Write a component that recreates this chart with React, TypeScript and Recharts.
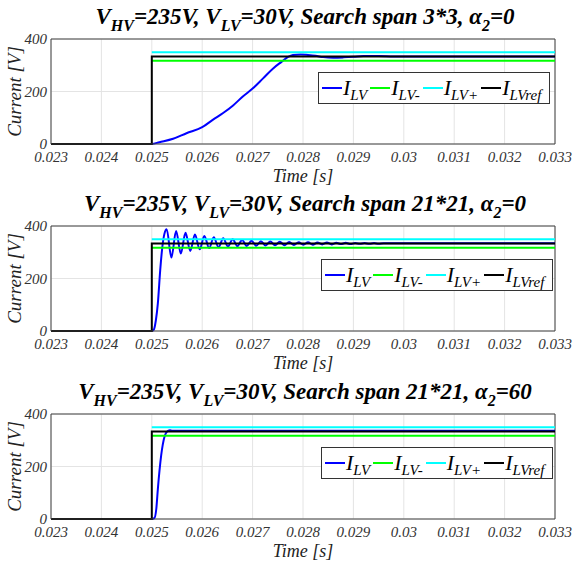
import { LineChart, Line, XAxis, YAxis, CartesianGrid, Legend, ReferenceLine } from "recharts";

// time ticks and y ticks
const timeTicks = [0.023, 0.024, 0.025, 0.026, 0.027, 0.028, 0.029, 0.03, 0.031, 0.032, 0.033];
const currentTicks = [0, 200, 400];

// reference levels (step at 0.025 s)
const refTime = [0.023, 0.025, 0.025, 0.033];
const refValue = [0, 0, 333, 333];
const bandTime = [0.025, 0.033];
const upperValue = [350, 350];
const lowerValue = [317, 317];

const seriesNames = ["I_LV", "I_LV-", "I_LV+", "I_LVref"];

// I_LV, search span 3*3, alpha2 = 0
const p1Time = [
  0.023, 0.025, 0.02515, 0.025423, 0.025688, 0.026, 0.026216, 0.026415, 0.026613, 0.026812, 0.027,
  0.027208, 0.027407, 0.027573, 0.027705, 0.0278, 0.02795, 0.0281, 0.02825, 0.0284, 0.0286, 0.0288,
  0.029, 0.0292, 0.0295, 0.0298, 0.033,
];
const p1Current = [
  0, 0, 7, 20, 41, 64, 93, 118, 147, 182, 211, 250, 288, 313, 332, 339, 341, 339, 336, 331, 329, 330,
  332, 335, 335, 333, 333,
];

// I_LV, search span 21*21, alpha2 = 0
const p2Time = [
  0.023, 0.025, 0.02504, 0.02508, 0.02512, 0.025167, 0.025206, 0.02525,
  0.025295, 0.025389, 0.025482, 0.025576, 0.025669, 0.025763, 0.025856, 0.02595,
  0.026043, 0.026137, 0.02623, 0.026324, 0.026417, 0.026511, 0.026604, 0.026698,
  0.026791, 0.026885, 0.026978, 0.027072, 0.027165, 0.027259, 0.027352, 0.027446,
  0.027539, 0.027633, 0.027726, 0.02782, 0.027913, 0.028007, 0.0281, 0.028194,
  0.028287, 0.028381, 0.028474, 0.028568, 0.028661, 0.028755, 0.028848, 0.028942,
  0.029035, 0.029129, 0.029222, 0.029316, 0.029409, 0.029503, 0.0296, 0.033,
];
const p2Current = [
  0, 0, 5, 40, 105, 232, 315, 370,
  388, 280, 381, 295, 374, 305, 368, 311,
  362, 316, 357, 319, 353, 322, 350, 323,
  347, 324, 344, 325, 342, 326, 341, 327,
  340, 327, 339, 328, 338, 329, 338, 329,
  337, 330, 337, 330, 336, 331, 336, 331,
  335, 332, 335, 332, 335, 332, 334, 334,
];

// I_LV, search span 21*21, alpha2 = 60
const p3Time = [0.023, 0.025, 0.02505, 0.02509, 0.02512, 0.025186, 0.025252, 0.02532, 0.02536, 0.0254, 0.033];
const p3Current = [0, 0, 3, 40, 114, 242, 313, 336, 338, 336, 336];

const panelTitles = ["3*3", "21*21", "21*21"];
const panelAlpha = ["0", "0", "60"];

const serif = '"Liberation Serif", Tinos, "Times New Roman", "DejaVu Serif", serif';

const toPoints = (t: number[], v: number[]) => t.map((x, i) => ({ t: x, v: v[i] }));

const LegendBox = ({ payload }: any) => {
  const items = [...(payload || [])].sort(
    (a: any, b: any) => seriesNames.indexOf(a.value) - seriesNames.indexOf(b.value)
  );
  return (
    <div
      style={{
        border: "1px solid #333",
        background: "#fff",
        height: 32,
        boxSizing: "border-box",
        display: "flex",
        alignItems: "center",
        paddingLeft: 3,
        fontFamily: serif,
        fontStyle: "italic",
        color: "#000",
        whiteSpace: "nowrap",
      }}
    >
      {items.map((p: any) => {
        const [main, sub] = String(p.value).split("_");
        return (
          <span key={p.value} style={{ display: "flex", alignItems: "center", marginRight: 3 }}>
            <span style={{ display: "inline-block", width: 20, height: 2, background: p.color, marginRight: 1 }} />
            <span style={{ fontSize: 22, lineHeight: "22px" }}>{main}</span>
            <span style={{ fontSize: 15, lineHeight: "15px", position: "relative", top: 7 }}>{sub}</span>
          </span>
        );
      })}
    </div>
  );
};

const subStyle = { fontSize: 16, position: "relative" as const, top: 7 };

const Panel = ({ top, data, span, alpha, legendLeft }: any) => (
  <div style={{ position: "absolute", left: 0, top, width: 573, height: 188 }}>
    <div
      style={{
        position: "absolute",
        left: 0,
        top: 5,
        width: 610,
        textAlign: "center",
        fontFamily: serif,
        fontWeight: "bold",
        fontStyle: "italic",
        fontSize: 23,
        lineHeight: "24px",
        whiteSpace: "nowrap",
        color: "#000",
      }}
    >
      V<span style={subStyle}>HV</span>=235V, V<span style={subStyle}>LV</span>=30V, Search span {span}, α
      <span style={subStyle}>2</span>={alpha}
    </div>
    <LineChart width={573} height={188} margin={{ top: 39, right: 18, bottom: 0, left: 0 }}>
      <CartesianGrid stroke="#e4e4e4" />
      <XAxis
        type="number"
        dataKey="t"
        domain={[0.023, 0.033]}
        ticks={timeTicks}
        tickFormatter={(v: number) => String(v)}
        height={44}
        tickLine={false}
        tickSize={5}
        tickMargin={2}
        axisLine={{ stroke: "#404040" }}
        tick={{ fontSize: 15, fontFamily: serif, fontStyle: "italic", fill: "#333" }}
        label={{
          value: "Time [s]",
          position: "insideBottom",
          offset: 6,
          style: { fontSize: 18, fontFamily: serif, fontStyle: "italic", fill: "#222" },
        }}
      />
      <YAxis
        type="number"
        domain={[0, 400]}
        ticks={currentTicks}
        width={51}
        tickLine={false}
        tickSize={2}
        tickMargin={2}
        axisLine={{ stroke: "#404040" }}
        tick={{ fontSize: 15, fontFamily: serif, fontStyle: "italic", fill: "#333" }}
        label={{
          value: "Current [V]",
          angle: -90,
          position: "insideLeft",
          offset: 14,
          style: { fontSize: 19, fontFamily: serif, fontStyle: "italic", fill: "#222", textAnchor: "middle" },
        }}
      />
      <ReferenceLine y={400} stroke="#404040" />
      <ReferenceLine x={0.033} stroke="#404040" />
      <Line data={data} dataKey="v" name={seriesNames[0]} type="monotone" stroke="#0000ff" strokeWidth={2} dot={false} isAnimationActive={false} />
      <Line data={toPoints(bandTime, lowerValue)} dataKey="v" name={seriesNames[1]} type="linear" stroke="#00ff00" strokeWidth={2} dot={false} isAnimationActive={false} />
      <Line data={toPoints(bandTime, upperValue)} dataKey="v" name={seriesNames[2]} type="linear" stroke="#00ffff" strokeWidth={2} dot={false} isAnimationActive={false} />
      <Line data={toPoints(refTime, refValue)} dataKey="v" name={seriesNames[3]} type="linear" stroke="#000000" strokeWidth={2} dot={false} isAnimationActive={false} />
      <Legend
        layout="horizontal"
        verticalAlign="middle"
        align="center"
        content={<LegendBox />}
        wrapperStyle={{ left: legendLeft, top: 72, width: 232, height: 32 }}
      />
    </LineChart>
  </div>
);

export default function App() {
  return (
    <div style={{ position: "absolute", left: 0, top: 0, width: 573, height: 566, background: "#fff", overflow: "hidden" }}>
      <Panel top={0} data={toPoints(p1Time, p1Current)} span={panelTitles[0]} alpha={panelAlpha[0]} legendLeft={318} />
      <Panel top={187} data={toPoints(p2Time, p2Current)} span={panelTitles[1]} alpha={panelAlpha[1]} legendLeft={321} />
      <Panel top={375} data={toPoints(p3Time, p3Current)} span={panelTitles[2]} alpha={panelAlpha[2]} legendLeft={321} />
    </div>
  );
}
